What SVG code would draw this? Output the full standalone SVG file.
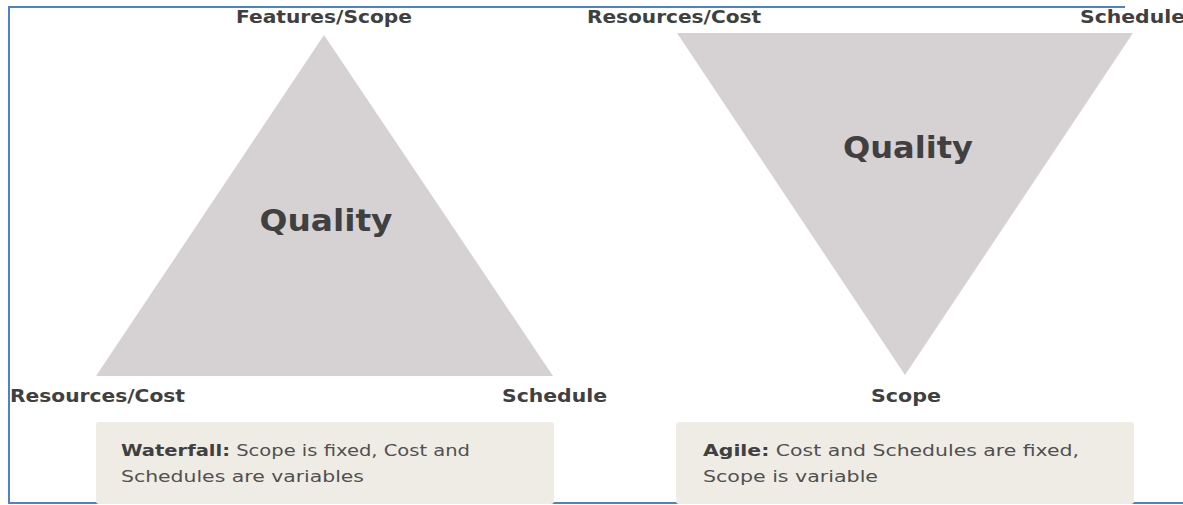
<svg xmlns="http://www.w3.org/2000/svg" width="1183" height="505" viewBox="0 0 1183 505">
<style>
.tri{fill:#d6d2d3}
.lbl{font-family:"DejaVu Sans",sans-serif;font-weight:bold;font-size:18px;fill:#404040}
.q{font-family:"DejaVu Sans",sans-serif;font-weight:bold;font-size:31px;fill:#404040;text-anchor:middle}
.box{fill:#efece6}
.bt{font-family:"DejaVu Sans",sans-serif;font-size:16px;fill:#505050}
.b{font-weight:bold;fill:#404040}
.frame{stroke:#4f7fd0;stroke-width:2;fill:none}
</style>
<rect width="1183" height="505" fill="#ffffff"/>
<g id="frame">
<path class="frame" d="M1125,7 H9 V503 H1183"/>
</g>
<g id="waterfall">
<polygon class="tri" points="324,35 96,376 553,376"/>
<text class="q" x="326" y="231" textLength="133" lengthAdjust="spacingAndGlyphs">Quality</text>
</g>
<g id="agile">
<polygon class="tri" points="677,33 1133,33 905,375"/>
<text class="q" x="908" y="158" textLength="130" lengthAdjust="spacingAndGlyphs">Quality</text>
</g>
<g id="labels">
<text class="lbl" x="236" y="23" textLength="176" lengthAdjust="spacingAndGlyphs">Features/Scope</text>
<text class="lbl" x="10" y="402" textLength="175" lengthAdjust="spacingAndGlyphs">Resources/Cost</text>
<text class="lbl" x="502" y="402" textLength="105" lengthAdjust="spacingAndGlyphs">Schedule</text>
<text class="lbl" x="587" y="23" textLength="174" lengthAdjust="spacingAndGlyphs">Resources/Cost</text>
<text class="lbl" x="1080" y="23" textLength="105" lengthAdjust="spacingAndGlyphs">Schedule</text>
<text class="lbl" x="871" y="402" textLength="70" lengthAdjust="spacingAndGlyphs">Scope</text>
</g>
<g id="waterfall-note">
<rect class="box" x="96" y="422" width="458" height="82" rx="3"/>
<text class="bt" x="121" y="456" textLength="349" lengthAdjust="spacingAndGlyphs"><tspan class="b">Waterfall:</tspan> Scope is fixed, Cost and</text>
<text class="bt" x="121" y="482" textLength="243" lengthAdjust="spacingAndGlyphs">Schedules are variables</text>
</g>
<g id="agile-note">
<rect class="box" x="676" y="422" width="458" height="82" rx="3"/>
<text class="bt" x="703" y="456" textLength="376" lengthAdjust="spacingAndGlyphs"><tspan class="b">Agile:</tspan> Cost and Schedules are fixed,</text>
<text class="bt" x="703" y="482" textLength="175" lengthAdjust="spacingAndGlyphs">Scope is variable</text>
</g>
<g id="connectors"/>
</svg>
